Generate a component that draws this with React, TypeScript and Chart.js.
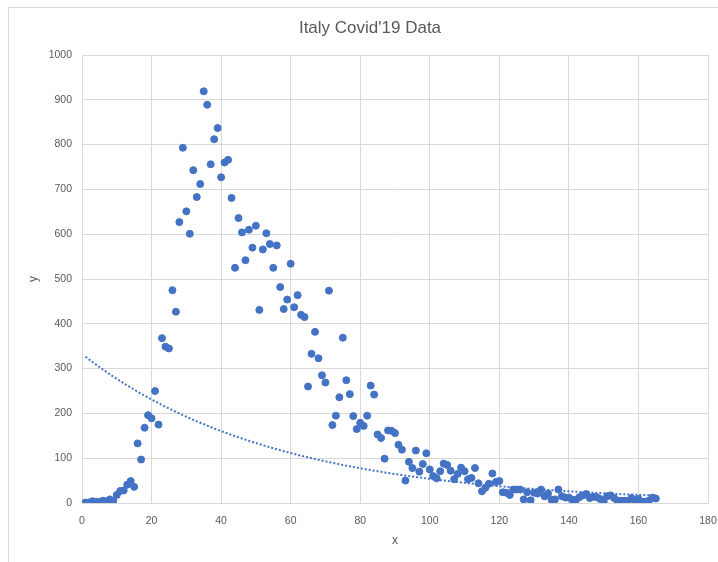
import { useEffect, useRef } from "react";
import { Chart, registerables } from "chart.js";

Chart.register(...registerables);

// Daily deaths in Italy, one value per day; day 1 is 22 February 2020.
const firstDay = 1;
const deathsFeb = [1, 1, 4, 3, 2, 5, 4, 8];
const deathsMar = [
  5, 18, 27, 28, 41, 49, 36, 133, 97, 168, 196, 189, 250, 175, 368, 349, 345,
  475, 427, 627, 793, 651, 601, 743, 683, 712, 919, 889, 756, 812, 837,
];
const deathsApr = [
  727, 760, 766, 681, 525, 636, 604, 542, 610, 570, 619, 431, 566, 602, 578,
  525, 575, 482, 433, 454, 534, 437, 464, 420, 415, 260, 333, 382, 323, 285,
];
const deathsMay = [
  269, 474, 174, 195, 236, 369, 274, 243, 194, 165, 179, 172, 195, 262, 242,
  153, 145, 99, 162, 161, 156, 130, 119, 50, 92, 78, 117, 70, 87, 111, 75,
];
const deathsJun = [
  60, 55, 71, 88, 85, 72, 53, 65, 79, 71, 53, 56, 78, 44, 26, 34, 43, 66, 47,
  49, 24, 23, 18, 30, 30, 30, 8, 24, 6, 23,
];
const deathsJul = [
  21, 30, 15, 21, 7, 8, 30, 15, 12, 12, 7, 7, 13, 17, 20, 11, 14, 13, 9, 3, 15,
  17, 11, 5, 5, 5, 5, 11, 6, 9, 3,
];
const deathsAug = [3, 5, 12, 10];

const dailyDeaths = [
  ...deathsFeb,
  ...deathsMar,
  ...deathsApr,
  ...deathsMay,
  ...deathsJun,
  ...deathsJul,
  ...deathsAug,
];

const xAxisMin = 0;
const xAxisMax = 180;
const xAxisStep = 20;
const yAxisMin = 0;
const yAxisMax = 1000;
const yAxisStep = 100;

const chartTitle = "Italy Covid'19 Data";
const xAxisTitle = "x";
const yAxisTitle = "y";

const markerBlue = "#4472C4";
const textGrey = "#595959";
const gridGrey = "#d9d9d9";
const fontFamily = "'Liberation Sans', Arial, sans-serif";

const points = dailyDeaths.map((y, i) => ({ x: firstDay + i, y }));

// Exponential trendline: least squares of ln(y) against x.
function exponentialFit(data: { x: number; y: number }[]) {
  const usable = data.filter((p) => p.y > 0);
  const n = usable.length;
  let sx = 0, sy = 0, sxx = 0, sxy = 0;
  for (const p of usable) {
    const ly = Math.log(p.y);
    sx += p.x;
    sy += ly;
    sxx += p.x * p.x;
    sxy += p.x * ly;
  }
  const b = (n * sxy - sx * sy) / (n * sxx - sx * sx);
  const lnA = (sy - b * sx) / n;
  return { a: Math.exp(lnA), b };
}

const fit = exponentialFit(points);
const trendPoints = points.map((p) => ({ x: p.x, y: fit.a * Math.exp(fit.b * p.x) }));

const frameAndText = {
  id: "frameAndText",
  beforeDraw(chart: Chart) {
    const { ctx, width, height } = chart;
    ctx.save();
    ctx.fillStyle = "#ffffff";
    ctx.fillRect(0, 0, width, height);
    ctx.strokeStyle = gridGrey;
    ctx.lineWidth = 1;
    ctx.beginPath();
    ctx.moveTo(8.5, height);
    ctx.lineTo(8.5, 7.5);
    ctx.lineTo(width, 7.5);
    ctx.stroke();
    ctx.restore();
  },
  afterDraw(chart: Chart) {
    const { ctx, chartArea } = chart;
    ctx.save();
    ctx.fillStyle = textGrey;
    ctx.textAlign = "center";
    ctx.textBaseline = "middle";
    ctx.font = `17px ${fontFamily}`;
    ctx.fillText(chartTitle, 370, 28);
    ctx.font = `12px ${fontFamily}`;
    ctx.fillText(xAxisTitle, (chartArea.left + chartArea.right) / 2, 541);
    ctx.translate(34, (chartArea.top + chartArea.bottom) / 2);
    ctx.rotate(-Math.PI / 2);
    ctx.fillText(yAxisTitle, 0, 0);
    ctx.restore();
  },
};

export default function App() {
  const canvasRef = useRef<HTMLCanvasElement | null>(null);

  useEffect(() => {
    if (!canvasRef.current) return;
    const chart = new Chart(canvasRef.current, {
      type: "scatter",
      data: {
        datasets: [
          {
            label: "Trend",
            type: "line",
            data: trendPoints,
            borderColor: markerBlue,
            borderWidth: 2,
            borderDash: [2, 2],
            pointRadius: 0,
            fill: false,
            order: 0,
          },
          {
            label: "Deaths",
            data: points,
            backgroundColor: markerBlue,
            borderColor: markerBlue,
            pointRadius: 3.5,
            pointBorderWidth: 1,
            order: 1,
          },
        ],
      },
      options: {
        animation: false,
        responsive: false,
        layout: { padding: { top: 55, right: 10, left: 0, bottom: 0 } },
        plugins: {
          legend: { display: false },
          title: { display: false },
          tooltip: { enabled: false },
        },
        scales: {
          x: {
            type: "linear",
            min: xAxisMin,
            max: xAxisMax,
            ticks: {
              stepSize: xAxisStep,
              color: textGrey,
              font: { family: fontFamily, size: 10.5 },
              padding: 12,
              maxRotation: 0,
              callback: (v: any) => String(v),
            },
            grid: { color: gridGrey, drawTicks: false },
            border: { color: gridGrey },
            afterFit: (scale: any) => {
              scale.height = 59;
              scale.paddingRight = 0;
              scale.paddingLeft = 0;
            },
          },
          y: {
            type: "linear",
            min: yAxisMin,
            max: yAxisMax,
            ticks: {
              stepSize: yAxisStep,
              color: textGrey,
              font: { family: fontFamily, size: 10.5 },
              padding: 10,
              callback: (v: any) => String(v),
            },
            grid: { color: gridGrey, drawTicks: false },
            border: { color: gridGrey },
            afterFit: (scale: any) => {
              scale.width = 82;
            },
          },
        },
      },
      plugins: [frameAndText],
    });
    return () => chart.destroy();
  }, []);

  return (
    <div style={{ position: "fixed", left: 0, top: 0, width: 718, height: 562, background: "#fff" }}>
      <canvas ref={canvasRef} width={718} height={562} style={{ display: "block" }} />
    </div>
  );
}
